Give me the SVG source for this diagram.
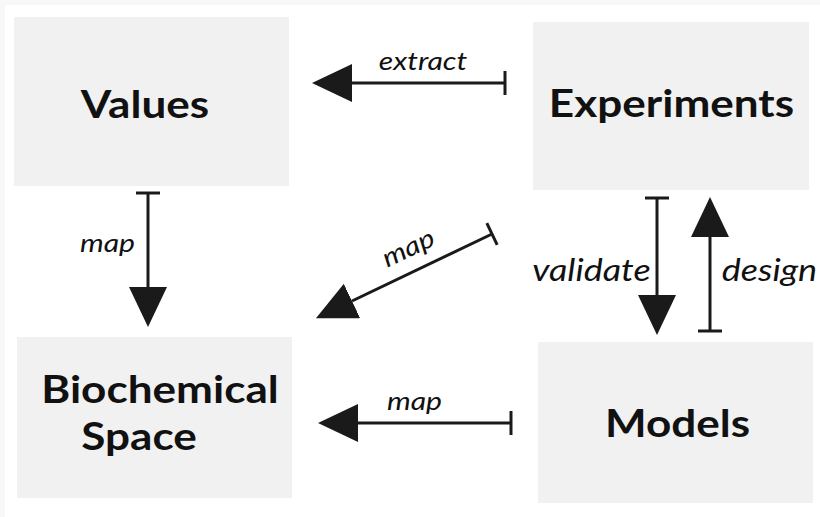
<svg xmlns="http://www.w3.org/2000/svg" width="820" height="517" viewBox="0 0 820 517">
<defs>
<style>
.box{fill:#f1f1f1}
.nt{font-family:Lato,"Noto Sans",sans-serif;font-weight:bold;font-size:38px;fill:#111;text-anchor:middle}
.lb{font-family:Lato,"Noto Sans",sans-serif;font-style:italic;font-size:26px;fill:#111;text-anchor:middle}
.lb2{font-family:Lato,"Noto Sans",sans-serif;font-style:italic;font-size:31px;fill:#111;text-anchor:middle}
.ln{stroke:#1a1a1a;stroke-width:3;fill:none;marker-start:url(#bar);marker-end:url(#head)}
</style>
<marker id="head" viewBox="0 -19 40 38" refX="0" refY="0" markerWidth="40" markerHeight="38" markerUnits="userSpaceOnUse" orient="auto">
<path d="M0,-19 L40,0 L0,19 z" fill="#1a1a1a"/>
</marker>
<marker id="bar" viewBox="-2 -13 4 26" refX="0" refY="0" markerWidth="4" markerHeight="26" markerUnits="userSpaceOnUse" orient="auto">
<path d="M0,-12 L0,12" stroke="#1a1a1a" stroke-width="3"/>
</marker>
</defs>
<rect x="0" y="0" width="820" height="517" fill="#fff"/>
<rect x="0" y="0" width="820" height="5" fill="#f8f8f8"/>
<rect x="0" y="0" width="5" height="517" fill="#f8f8f8"/>
<g id="values"><rect class="box" x="14" y="17" width="275" height="169"/><text class="nt" transform="translate(145 118) scale(1.16 1)">Values</text></g>
<g id="experiments"><rect class="box" x="533" y="22" width="276" height="168"/><text class="nt" transform="translate(671.5 117) scale(1.16 1)">Experiments</text></g>
<g id="biochemical"><rect class="box" x="17" y="337" width="275" height="161"/><text class="nt" transform="translate(160 403) scale(1.16 1)">Biochemical</text><text class="nt" transform="translate(139 450) scale(1.16 1)">Space</text></g>
<g id="models"><rect class="box" x="538" y="342" width="275" height="161"/><text class="nt" transform="translate(677.5 437) scale(1.16 1)">Models</text></g>
<g id="connectors">
<line class="ln" x1="505" y1="83" x2="352" y2="83"/>
<line class="ln" x1="148" y1="193" x2="148" y2="287"/>
<line class="ln" x1="492" y1="234" x2="352" y2="301"/>
<line class="ln" x1="657" y1="198" x2="657" y2="295"/>
<line class="ln" x1="710" y1="331" x2="710" y2="237"/>
<line class="ln" x1="511" y1="423" x2="358" y2="423"/>
<text class="lb" transform="translate(423 70) scale(1.16 1)">extract</text>
<text class="lb" transform="translate(107.5 252) scale(1.16 1)">map</text>
<text class="lb" transform="translate(412 256) rotate(-25.5) scale(1.16 1)">map</text>
<text class="lb2" transform="translate(591.5 281) scale(1.16 1)">validate</text>
<text class="lb2" transform="translate(769.5 281) scale(1.16 1)">design</text>
<text class="lb" transform="translate(414.5 410) scale(1.16 1)">map</text>
</g>
</svg>
